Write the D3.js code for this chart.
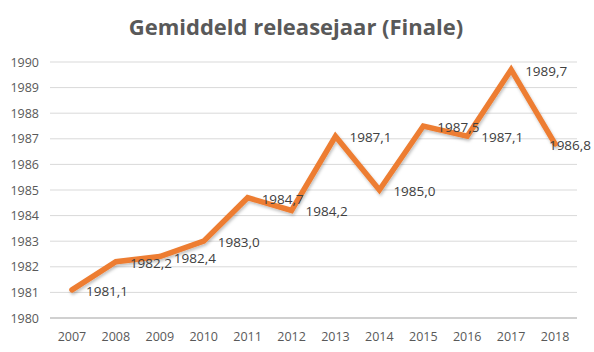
<!DOCTYPE html>
<html><head><meta charset="utf-8">
<script src="https://cdn.jsdelivr.net/npm/d3@7"></script>
<style>body{margin:0;background:#fff}</style>
</head><body>
<svg id="c" width="594" height="352"></svg>
<script>
const years = ["2007","2008","2009","2010","2011","2012","2013","2014","2015","2016","2017","2018"];
const values = [1981.1,1982.2,1982.4,1983.0,1984.7,1984.2,1987.1,1985.0,1987.5,1987.1,1989.7,1986.8];
const yTicks = [1980,1981,1982,1983,1984,1985,1986,1987,1988,1989,1990];
const title = "Gemiddeld releasejaar (Finale)";

const svg = d3.select("#c");
const font = "Open Sans, Liberation Sans, sans-serif";
const L = 50, R = 577, T = 62, B = 318;
const x = d3.scaleBand().domain(years).range([L, R]);
const y = d3.scaleLinear().domain([1980, 1990]).range([B, T]);

svg.append("text").attr("x", 296).attr("y", 35).attr("text-anchor", "middle")
  .attr("font-family", font).attr("font-weight", "bold").attr("font-size", 22)
  .attr("fill", "#595959").text(title);

svg.append("g").selectAll("line").data(yTicks).join("line")
  .attr("x1", L).attr("x2", R).attr("y1", d => y(d)).attr("y2", d => y(d))
  .attr("stroke", d => d === 1980 ? "#d0d0d0" : "#d9d9d9")
  .attr("stroke-width", d => d === 1980 ? 2 : 1);

const yAxis = d3.axisLeft(y).tickValues(yTicks).tickFormat(d3.format("d")).tickSize(0).tickPadding(11);
const gy = svg.append("g").attr("transform", `translate(${L},0)`).call(yAxis);
gy.select(".domain").remove();
gy.selectAll("text").attr("font-family", font).attr("font-size", 12.5).attr("fill", "#595959");

const xAxis = d3.axisBottom(x).tickSize(0).tickPadding(14);
const gx = svg.append("g").attr("transform", `translate(0,${B})`).call(xAxis);
gx.select(".domain").remove();
gx.selectAll("text").attr("font-family", font).attr("font-size", 12.5).attr("fill", "#595959");

const data = years.map((yr, i) => ({yr, v: values[i]}));
const line = d3.line().x(d => x(d.yr) + x.bandwidth()/2).y(d => y(d.v));

const defs = svg.append("defs");
const f = defs.append("filter").attr("id","sh").attr("x","-10%").attr("y","-10%").attr("width","120%").attr("height","120%");
f.append("feDropShadow").attr("dx",1).attr("dy",2).attr("stdDeviation",1.5).attr("flood-color","#000").attr("flood-opacity",0.25);

svg.append("path").datum(data).attr("d", line).attr("fill", "none")
  .attr("stroke", "#ed7d31").attr("stroke-width", 5.5).attr("stroke-linejoin", "miter")
  .attr("stroke-linecap", "round").attr("filter", "url(#sh)");

const fmt = v => v.toFixed(1).replace(".", ",");
const lbl = svg.append("g").selectAll("text").data(data).join("text")
  .attr("font-family", font).attr("font-size", 13.5).attr("fill", "#404040")
  .attr("dominant-baseline", "central")
  .attr("y", d => y(d.v) + 1)
  .text(d => fmt(d.v));
lbl.each(function(d) {
  const w = this.getComputedTextLength();
  let xx = x(d.yr) + x.bandwidth()/2 + 14;
  if (xx + w > 591) xx = 591 - w;
  d3.select(this).attr("x", xx);
});
</script>
</body></html>
